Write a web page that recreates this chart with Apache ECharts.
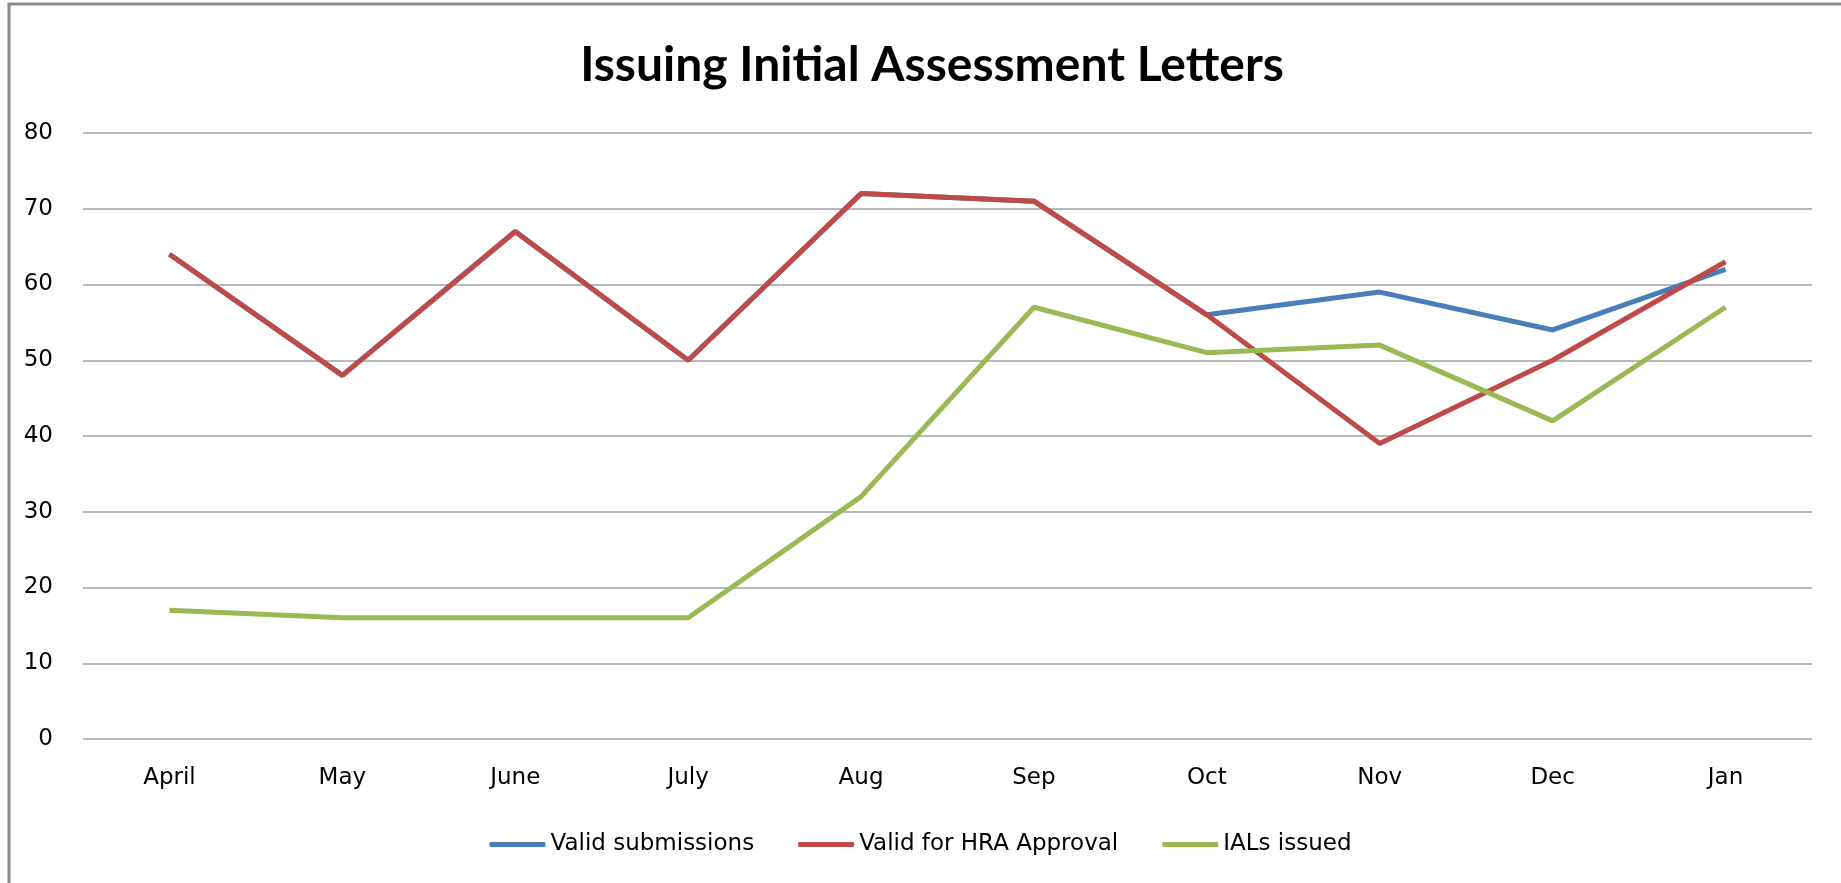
<!DOCTYPE html>
<html>
<head>
<meta charset="utf-8">
<style>
  html, body { margin: 0; padding: 0; background: #fff; }
  #chart { width: 1841px; height: 883px; }
</style>
<script src="https://cdn.jsdelivr.net/npm/echarts@6/dist/echarts.min.js"></script>
</head>
<body>
<div id="chart"></div>
<script>
  const months = ['April', 'May', 'June', 'July', 'Aug', 'Sep', 'Oct', 'Nov', 'Dec', 'Jan'];
  const validSubmissions = [64, 48, 67, 50, 72, 71, 56, 59, 54, 62];
  const validForHra = [64, 48, 67, 50, 72, 71, 56, 39, 50, 63];
  const ialsIssued = [17, 16, 16, 16, 32, 57, 51, 52, 42, 57];
  const yTicks = [0, 10, 20, 30, 40, 50, 60, 70, 80];

  const labelFont = 'DejaVu Sans';
  const chart = echarts.init(document.getElementById('chart'));

  function lineSeries(name, data, color) {
    return {
      name: name,
      type: 'line',
      data: data,
      symbol: 'none',
      color: color,
      lineStyle: { color: color, width: 5 }
    };
  }

  const option = {
    animation: false,
    backgroundColor: '#fff',
    title: {
      text: 'Issuing Initial Assessment Letters',
      left: 927,
      textAlign: 'center',
      top: 37,
      textStyle: {
        fontFamily: 'Lato, sans-serif',
        fontWeight: 'bold',
        fontSize: 48,
        color: '#000'
      }
    },
    legend: {
      top: 828,
      left: 'center',
      itemWidth: 56,
      itemHeight: 5,
      itemGap: 44,
      icon: 'roundRect',
      textStyle: { fontFamily: labelFont, fontSize: 23, color: '#000' },
      data: ['Valid submissions', 'Valid for HRA Approval', 'IALs issued']
    },
    grid: {
      top: 133,
      bottom: 144,
      left: 83,
      right: 29
    },
    xAxis: {
      type: 'category',
      data: months,
      boundaryGap: true,
      axisLine: { show: false },
      axisTick: { show: false },
      axisLabel: {
        margin: 28,
        fontFamily: labelFont,
        fontSize: 23,
        color: '#000'
      }
    },
    yAxis: {
      type: 'value',
      min: yTicks[0],
      max: yTicks[yTicks.length - 1],
      interval: 10,
      axisLine: { show: false },
      axisTick: { show: false },
      axisLabel: {
        margin: 30,
        fontFamily: labelFont,
        fontSize: 23,
        color: '#000'
      },
      splitLine: { lineStyle: { color: '#a0a0a0', width: 1.5 } }
    },
    graphic: [{
      type: 'rect',
      shape: { x: 9, y: 4, width: 1850, height: 900 },
      style: { fill: 'none', stroke: '#8a8a8a', lineWidth: 3 },
      silent: true
    }],
    series: [
      lineSeries('Valid submissions', validSubmissions, '#4a7ebb'),
      lineSeries('Valid for HRA Approval', validForHra, '#be4b48'),
      lineSeries('IALs issued', ialsIssued, '#98b954')
    ]
  };

  chart.setOption(option);
  window.addEventListener('resize', function () {
    chart.resize();
  });
</script>
</body>
</html>
